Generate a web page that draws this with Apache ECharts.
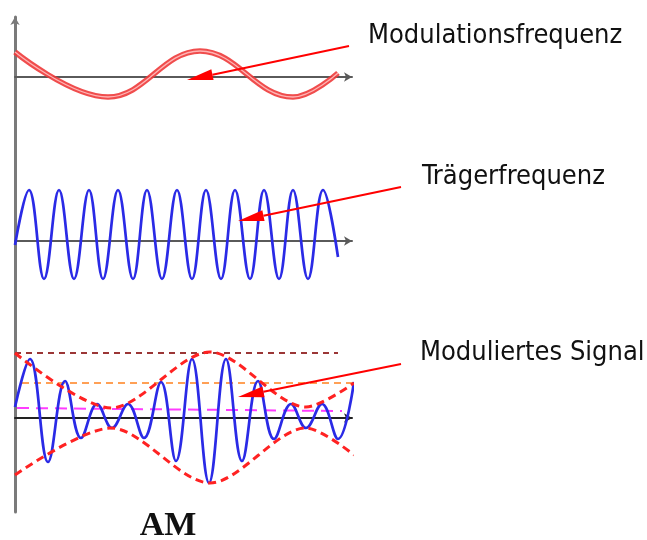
<!DOCTYPE html>
<html><head><meta charset="utf-8">
<script src="https://cdn.jsdelivr.net/npm/echarts@6/dist/echarts.min.js"></script>
<style>html,body{margin:0;padding:0;background:#fff}#c{width:647px;height:540px}</style>
</head><body><div id="c"></div>
<script>
// ---- values (time units along x, amplitude units relative to each panel's axis) ----
// Modulationsfrequenz (top panel): turning points
const modT = [0, 93, 185, 278, 323];
const modA = [25, -20, 26, -20, 4];

// Trägerfrequenz (middle panel): start, peaks/troughs, end
const carT = [0, 14, 29, 44, 59, 74, 88, 103, 118, 132, 147, 162, 177, 191, 206, 220, 235, 249, 264, 278, 293, 308, 323];
const carA = [-4, 51, -38, 51, -38, 51, -38, 51, -38, 51, -38, 51, -38, 51, -38, 51, -38, 51, -38, 51, -38, 51, -16];

// Moduliertes Signal (bottom panel): start, peaks/troughs, end
const amT = [0, 15, 33, 50, 66, 82, 97, 113, 129, 146, 161, 177, 194, 211, 227, 243, 259, 276, 291, 307, 323, 339];
const amA = [11, 59, -44, 37, -20, 14, -10, 14, -20, 36, -43, 59, -65, 59, -43, 37, -21, 14, -10, 14, -21, 36];

// Envelope (red dashed)
const envT = [0, 96, 195, 291, 339];
const envUp = [65, 10, 66, 11, 35];
const envLo = [-57, -10, -65, -10, -37];

// Horizontal reference levels (dashed)
const brownT = [0, 323], brownA = [65, 65];
const orangeT = [7, 339], orangeA = [35, 35];
const magentaT = [2, 327], magentaA = [10, 7];

// Labels
const labels = ['Modulationsfrequenz', 'Trägerfrequenz', 'Moduliertes Signal'];
const caption = 'AM';

// ---- layout (pixels) ----
const labelPos = [[368, 36], [422, 177], [420, 353]];
const arrowPos = [
  {from: [349, 46], to: [187, 80]},
  {from: [401, 187], to: [238, 221]},
  {from: [401, 364], to: [238, 397]}
];

const zip = (a, b) => a.map((v, i) => [v, b[i]]);

const chart = echarts.init(document.getElementById('c'), null, {renderer: 'canvas'});

const hidden = {show: false};
function xAx(gi, color) {
  return {
    type: 'value', gridIndex: gi, min: 0, max: 337,
    axisLine: {show: true, onZero: true, symbol: ['none', 'arrow'], symbolSize: [7, 8],
      lineStyle: {color: color, width: 2}},
    axisTick: hidden, axisLabel: hidden, splitLine: hidden
  };
}
function yAx(gi, lim) {
  return {type: 'value', gridIndex: gi, min: -lim, max: lim, show: false,
    axisLine: {onZero: false}, splitLine: hidden};
}

function line(gi, data, style, smooth, z) {
  return {
    type: 'line', xAxisIndex: gi, yAxisIndex: gi, data: data,
    symbol: 'none', smooth: smooth, clip: false, z: z || 2,
    lineStyle: style, silent: true, animation: false
  };
}

// arrows
const graphics = [];
arrowPos.forEach(a => {
  const [x1, y1] = a.from, [x2, y2] = a.to;
  const dx = x1 - x2, dy = y1 - y2, L = Math.hypot(dx, dy);
  const ux = dx / L, uy = dy / L, px = -uy, py = ux;
  const hl = 26, hw = 5.5;
  const bx = x2 + ux * hl, by = y2 + uy * hl;
  graphics.push({type: 'polyline', z: 100, shape: {points: [[x1, y1], [bx, by]]},
    style: {stroke: '#ff0000', lineWidth: 2, fill: null}});
  graphics.push({type: 'polygon', z: 100, shape: {points: [[x2, y2], [bx + px * hw, by + py * hw], [bx - px * hw, by - py * hw]]},
    style: {fill: '#ff0000', stroke: null}});
});
labels.forEach((t, i) => {
  graphics.push({type: 'text', z: 100, x: labelPos[i][0], y: labelPos[i][1],
    style: {text: t, fill: '#111', fontSize: 27,
      fontFamily: "'DejaVu Sans Condensed', 'Liberation Sans', sans-serif",
      align: 'left', verticalAlign: 'middle'}});
});
graphics.push({type: 'text', z: 100, x: 168, y: 526,
  style: {text: caption, fill: '#111', fontSize: 34, fontWeight: 'bold',
    fontFamily: "'Liberation Serif', 'DejaVu Serif', serif",
    align: 'center', verticalAlign: 'middle'}});

const option = {
  animation: false,
  backgroundColor: '#ffffff',
  grid: [
    {left: 15, width: 337, top: 27, height: 100},
    {left: 15, width: 337, top: 141, height: 200},
    {left: 15, width: 337, top: 318, height: 200},
    {left: 15, width: 337, top: 17, bottom: 28}
  ],
  xAxis: [
    xAx(0, '#5a5a5a'), xAx(1, '#5a5a5a'), xAx(2, '#222222'),
    {type: 'value', gridIndex: 3, min: 0, max: 337, show: false}
  ],
  yAxis: [
    yAx(0, 50), yAx(1, 100), yAx(2, 100),
    {type: 'value', gridIndex: 3, min: 0, max: 1, position: 'left',
      axisLine: {show: true, onZero: false, symbol: ['none', 'arrow'], symbolSize: [7, 8],
        lineStyle: {color: '#7a7a7a', width: 3}},
      axisTick: hidden, axisLabel: hidden, splitLine: hidden}
  ],
  series: [
    line(0, zip(modT, modA), {color: '#ee3a3a', width: 5.5, opacity: 0.9}, 0.4, 3),
    line(0, zip(modT, modA), {color: '#ffb4b4', width: 1.3}, 0.4, 4),
    line(1, zip(carT, carA), {color: '#2a2ae6', width: 2.7}, 0.4, 3),
    line(2, zip(brownT, brownA), {color: '#9b3636', width: 2, type: [6, 5]}, false, 2),
    line(2, zip(orangeT, orangeA), {color: '#ffa055', width: 2, type: [7, 5]}, false, 2),
    line(2, zip(magentaT, magentaA), {color: '#ff3cff', width: 2, type: [12, 7]}, false, 2),
    line(2, zip(amT, amA), {color: '#2a2ae6', width: 2.7}, 0.4, 3),
    line(2, zip(envT, envUp), {color: '#ff2222', width: 3, type: [8, 5]}, 0.3, 4),
    line(2, zip(envT, envLo), {color: '#ff2222', width: 3, type: [8, 5]}, 0.3, 4)
  ],
  graphic: graphics
};
chart.setOption(option);
</script></body></html>
